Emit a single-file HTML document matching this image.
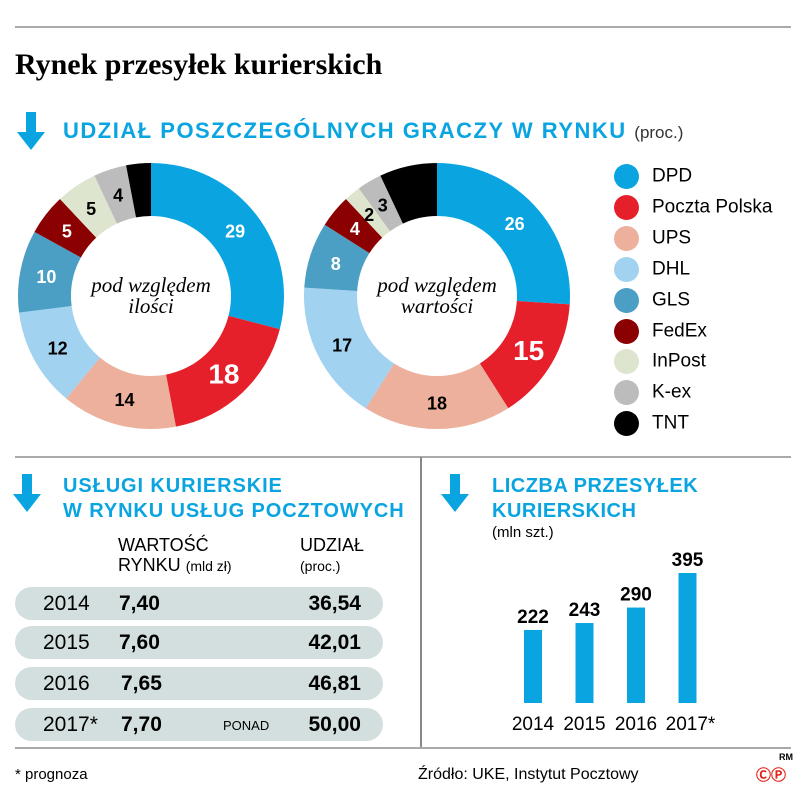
<!DOCTYPE html>
<html><head><meta charset="utf-8"><style>
body{margin:0;width:805px;height:797px;background:#fff;position:relative;font-family:"Liberation Sans",sans-serif;overflow:hidden}
.a{position:absolute;white-space:nowrap}
.cy{color:#0aa5e0;font-weight:bold}
.pill{position:absolute;left:15px;width:368px;height:33px;border-radius:17px;background:#d3dfdf}
.pill span{position:absolute;top:5px;font-size:21px}
</style></head><body>
<div class="a" style="left:15px;top:26px;width:776px;height:2px;background:#aaa"></div>
<div class="a" style="left:15px;top:48px;font-family:'Liberation Serif',serif;font-weight:bold;font-size:30px">Rynek przesyłek kurierskich</div>
<svg class="a" style="left:15px;top:112px" width="32" height="40"><path d="M11 0h10v20h9L16 38 2 20h9z" fill="#0aa5e0"/></svg>
<div class="a cy" style="left:63px;top:118px;font-size:22px;letter-spacing:1.5px">UDZIAŁ POSZCZEGÓLNYCH GRACZY W RYNKU <span style="color:#333;font-weight:normal;font-size:17px;letter-spacing:0">(proc.)</span></div>
<svg class="a" id="donuts" style="left:0;top:150px" width="600" height="300"></svg>
<div id="legend"></div>
<div class="a" style="left:15px;top:456px;width:776px;height:2px;background:#aaa"></div>
<div class="a" style="left:420px;top:457px;width:2px;height:292px;background:#888"></div>
<div class="a" style="left:15px;top:747px;width:776px;height:2px;background:#aaa"></div>
<svg class="a" style="left:12px;top:474px" width="30" height="40"><path d="M10 0h10v20h9L15 38 1 20h9z" fill="#0aa5e0"/></svg>
<div class="a cy" style="left:63px;top:474px;font-size:20px;line-height:25px;letter-spacing:0.9px">USŁUGI KURIERSKIE<br>W RYNKU USŁUG POCZTOWYCH</div>
<div class="a" style="left:118px;top:535px;font-size:18px;line-height:20px">WARTOŚĆ<br>RYNKU <span style="font-size:14px">(mld zł)</span></div>
<div class="a" style="left:300px;top:535px;font-size:18px;line-height:20px">UDZIAŁ<br><span style="font-size:14px">(proc.)</span></div>
<div class="pill" style="top:587px"><span style="left:28px">2014</span><span style="left:104px;font-weight:bold">7,40</span><span style="right:22px;font-weight:bold">36,54</span></div>
<div class="pill" style="top:626px"><span style="left:28px">2015</span><span style="left:104px;font-weight:bold">7,60</span><span style="right:22px;font-weight:bold">42,01</span></div>
<div class="pill" style="top:667px"><span style="left:28px">2016</span><span style="left:106px;font-weight:bold">7,65</span><span style="right:22px;font-weight:bold">46,81</span></div>
<div class="pill" style="top:708px"><span style="left:28px">2017*</span><span style="left:106px;font-weight:bold">7,70</span><span style="left:208px;top:10px;font-size:13px">PONAD</span><span style="right:22px;font-weight:bold">50,00</span></div>
<svg class="a" style="left:440px;top:474px" width="30" height="40"><path d="M10 0h10v20h9L15 38 1 20h9z" fill="#0aa5e0"/></svg>
<div class="a cy" style="left:492px;top:474px;font-size:20px;line-height:25px;letter-spacing:0.5px">LICZBA PRZESYŁEK<br>KURIERSKICH</div>
<div class="a" style="left:492px;top:524px;font-size:15px">(mln szt.)</div>
<svg class="a" id="bars" style="left:480px;top:540px" width="260" height="210"></svg>
<div class="a" style="left:15px;top:766px;font-size:15px">* prognoza</div>
<div class="a" style="left:418px;top:766px;font-size:16px">Źródło: UKE, Instytut Pocztowy</div>
<div class="a" style="left:779px;top:752px;font-size:9px;font-weight:bold">RM</div>
<div class="a" style="left:756px;top:764px;font-size:15px;color:#e2231a;font-weight:bold">ⒸⓅ</div>
<script>
const players=["DPD","Poczta Polska","UPS","DHL","GLS","FedEx","InPost","K-ex","TNT"];
const colors=["#0aa5e0","#e5202a","#ecb09c","#a1d2ef","#4c9fc4","#8b0000","#dde5cf","#bcbcbc","#000"];
const qtyShare=[29,18,14,12,10,5,5,4,3];
const valShare=[26,15,18,17,8,4,2,3,7];
const qtyLabels=["29","18","14","12","10","5","5","4","3"];
const valLabels=["26","15","18","17","8","4","2","3",""];
const years=["2014","2015","2016","2017*"];
const parcels=[222,243,290,395];
const NS="http://www.w3.org/2000/svg";
const svg=document.getElementById('donuts');
function donut(cx,cy,vals,labels,center,name){
  const R=133,r=80,tot=vals.reduce((a,b)=>a+b,0);let a0=0;
  vals.forEach((v,i)=>{
    const a1=a0+v/tot*2*Math.PI;
    const p=(a,rr)=>[cx+rr*Math.sin(a),cy-rr*Math.cos(a)];
    const [x1,y1]=p(a0,R),[x2,y2]=p(a1,R),[x3,y3]=p(a1,r),[x4,y4]=p(a0,r);
    const lg=a1-a0>Math.PI?1:0;
    const path=document.createElementNS(NS,'path');
    path.setAttribute('d',`M${x1} ${y1}A${R} ${R} 0 ${lg} 1 ${x2} ${y2}L${x3} ${y3}A${r} ${r} 0 ${lg} 0 ${x4} ${y4}Z`);
    path.setAttribute('fill',colors[i]);
    
    
    svg.appendChild(path);
    if(labels[i]){
      const m=(a0+a1)/2,[lx,ly]=p(m,(R+r)/2);
      const t=document.createElementNS(NS,'text');
      t.setAttribute('x',lx);t.setAttribute('y',ly+7);t.setAttribute('text-anchor','middle');
      const big=(i===1);
      t.setAttribute('font-size',big?28:18);t.setAttribute('font-weight','bold');
      t.setAttribute('fill',[0,1,4,5].includes(i)?'#fff':'#000');
      if(big)t.setAttribute('y',ly+10);
      t.textContent=labels[i];
      
      
      svg.appendChild(t);
    }
    a0=a1;
  });
  center.forEach((s,k)=>{
    const t=document.createElementNS(NS,'text');
    t.setAttribute('x',cx);t.setAttribute('y',cy-4+k*21);t.setAttribute('text-anchor','middle');
    t.setAttribute('font-family','Liberation Serif, serif');t.setAttribute('font-style','italic');t.setAttribute('font-size',21);
    t.textContent=s;
    
    
    svg.appendChild(t);
  });
}
donut(151,146,qtyShare,qtyLabels,["pod względem","ilości"],'qty');
donut(437,146,valShare,valLabels,["pod względem","wartości"],'value');
const lg=document.getElementById('legend');
players.forEach((p,i)=>{
  const d=document.createElement('div');d.className='a';
  d.style.cssText=`left:614px;top:${164+i*30.9}px;font-size:19px;line-height:24px`;
  d.innerHTML=`<span style="display:inline-block;width:25px;height:25px;border-radius:50%;background:${colors[i]};vertical-align:middle;margin-right:13px"></span>${p}`;
  
  
  lg.appendChild(d);
});
const bs=document.getElementById('bars');
const base=163,k=130/395,x=i=>44+i*51.5;
parcels.forEach((v,i)=>{
  const h=v*k;
  const r=document.createElementNS(NS,'rect');
  r.setAttribute('x',x(i));r.setAttribute('y',base-h);r.setAttribute('width',18);r.setAttribute('height',h);r.setAttribute('fill','#0aa5e0');
  
  
  bs.appendChild(r);
  const t=document.createElementNS(NS,'text');
  t.setAttribute('x',x(i)+9);t.setAttribute('y',base-h-7);t.setAttribute('text-anchor','middle');t.setAttribute('font-size',19);t.setAttribute('font-weight','bold');
  t.textContent=v;
  
  
  bs.appendChild(t);
  const y=document.createElementNS(NS,'text');
  y.setAttribute('x',x(i)+9+(i===3?3:0));y.setAttribute('y',base+27);y.setAttribute('text-anchor','middle');y.setAttribute('font-size',19);
  y.textContent=years[i];
  
  
  bs.appendChild(y);
});
</script>
</body></html>
